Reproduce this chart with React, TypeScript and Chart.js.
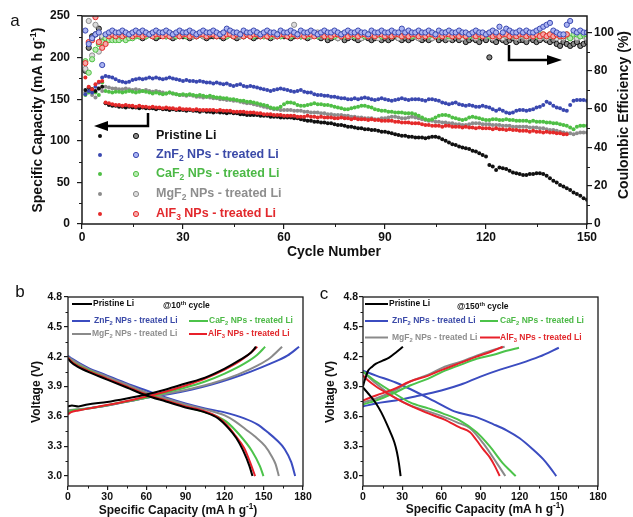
import React, { useEffect, useRef } from "react";
import { Chart, registerables } from "chart.js";
Chart.register(...registerables);

const FONT = '"Liberation Sans", Arial, Helvetica, sans-serif';

// ---------------- Panel a data ----------------
const CYCLE_TICKS = [0, 30, 60, 90, 120, 150];
const CAPACITY_TICKS = [0, 50, 100, 150, 200, 250];
const CE_TICKS = [0, 20, 40, 60, 80, 100];

const SERIES_LABELS = [
  "Pristine Li",
  "ZnF_{2} NPs - treated Li",
  "CaF_{2} NPs - treated Li",
  "MgF_{2} NPs - treated Li",
  "AlF_{3} NPs - treated Li",
];

const PRISTINE_CAP = [
  161, 164, 162, 160, 163, 165, 145, 143, 142, 142,
  141, 141, 140, 141, 140, 140, 139, 140, 139, 139,
  139, 138, 139, 138, 138, 137, 138, 137, 137, 137,
  136, 137, 136, 136, 135, 136, 135, 135, 134, 135,
  134, 134, 133, 134, 133, 133, 132, 132, 131, 131,
  131, 131, 130, 130, 130, 129, 129, 129, 128, 128,
  128, 128, 127, 127, 126, 125, 124, 124, 123, 123,
  122, 122, 121, 121, 120, 119, 119, 118, 117, 117,
  116, 115, 115, 114, 114, 113, 113, 112, 111, 111,
  110, 109, 108, 107, 106, 106, 105, 105, 104, 104,
  104, 103, 104, 105, 105, 104, 102, 100, 98, 96,
  95, 93, 92, 91, 90, 88, 87, 85, 83, 81,
  71, 69, 65, 68, 67, 66, 64, 62, 61, 60,
  59, 59, 60, 60, 61, 61, 60, 58, 55, 52,
  50, 47, 45, 43, 41, 38, 36, 34, 31, 29,
];
const ZNF2_CAP = [
  156, 160, 158, 165, 170, 176, 178, 177, 176, 174,
  172, 171, 170, 171, 173, 174, 175, 174, 175, 176,
  175, 176, 175, 174, 175, 176, 175, 174, 173, 172,
  173, 172, 172, 171, 172, 171, 170, 170, 169, 170,
  169, 168, 169, 167, 166, 167, 168, 166, 165, 166,
  165, 164, 163, 162, 161, 160, 161, 162, 163, 162,
  161, 160, 159, 160, 161, 159, 158, 158, 156, 155,
  155, 154, 154, 153, 153, 152, 151, 151, 150, 150,
  151, 150, 151, 152, 151, 150, 149, 150, 151, 150,
  149, 148, 149, 150, 151, 150, 149, 150, 150, 150,
  149, 148, 150, 150, 149, 148, 146, 145, 144, 145,
  146, 144, 143, 142, 143, 142, 141, 141, 142, 141,
  140, 138, 136, 138, 136, 134, 133, 134, 136, 137,
  137, 136, 137, 138, 140, 141, 143, 147, 145, 142,
  140, 139, 137, 136, 143, 148, 149, 149, 149, 148,
];
const CAF2_CAP = [
  155, 158, 162, 158, 155, 170, 160, 159, 158, 159,
  159, 158, 159, 160, 159, 158, 159, 160, 159, 158,
  157, 158, 157, 156, 157, 158, 157, 156, 155, 156,
  155, 156, 155, 154, 155, 154, 153, 154, 153, 152,
  152, 151, 151, 150, 150, 149, 148, 148, 147, 147,
  146, 145, 144, 143, 142, 140, 139, 139, 141, 144,
  146, 146, 145, 143, 142, 142, 143, 144, 145, 144,
  144, 143, 143, 142, 141, 140, 139, 138, 138, 139,
  140, 141, 142, 142, 141, 140, 138, 137, 136, 136,
  135, 135, 134, 134, 134, 133, 133, 133, 132, 130,
  128, 126, 125, 126, 128, 130, 131, 131, 130, 128,
  127, 126, 125, 126, 128, 129, 128, 127, 126, 125,
  125, 126, 126, 125, 125, 126, 125, 125, 124, 124,
  124, 124, 123, 124, 123, 123, 123, 122, 122, 121,
  121, 120, 119, 118, 116, 114, 117, 118, 118, 118,
];
const MGF2_CAP = [
  158, 160, 155, 152, 163, 160, 165, 164, 163, 163,
  162, 162, 163, 162, 161, 162, 161, 160, 161, 160,
  159, 160, 159, 158, 157, 158, 157, 156, 155, 155,
  154, 155, 154, 153, 153, 152, 153, 152, 151, 151,
  150, 150, 149, 149, 148, 148, 147, 146, 145, 145,
  144, 143, 142, 141, 140, 139, 138, 138, 137, 137,
  137, 137, 136, 136, 136, 135, 135, 134, 134, 134,
  133, 133, 132, 132, 131, 131, 131, 130, 130, 129,
  129, 128, 128, 127, 127, 127, 126, 126, 127, 127,
  128, 129, 129, 128, 127, 127, 128, 129, 128, 127,
  126, 125, 124, 124, 123, 123, 122, 122, 121, 121,
  120, 120, 119, 119, 120, 121, 121, 121, 120, 120,
  120, 119, 119, 119, 118, 118, 118, 117, 117, 117,
  117, 117, 116, 116, 116, 115, 115, 114, 113, 113,
  112, 111, 110, 109, 109, 108, 109, 110, 110, 110,
];
const ALF3_CAP = [
  176, 165, 162, 168, 171, 172, 146, 145, 144, 143,
  143, 142, 143, 142, 142, 141, 142, 141, 141, 140,
  141, 140, 140, 139, 140, 139, 139, 138, 139, 138,
  138, 138, 137, 138, 137, 137, 137, 137, 137, 136,
  137, 136, 136, 136, 135, 135, 135, 135, 134, 134,
  134, 133, 133, 132, 132, 132, 131, 131, 131, 130,
  130, 130, 130, 129, 129, 129, 130, 129, 129, 128,
  129, 128, 128, 128, 127, 127, 128, 127, 127, 126,
  127, 126, 126, 126, 125, 126, 125, 125, 124, 124,
  124, 124, 123, 123, 122, 122, 122, 121, 121, 121,
  120, 119, 119, 118, 118, 118, 117, 118, 118, 117,
  117, 117, 116, 117, 116, 116, 115, 116, 115, 115,
  115, 114, 115, 114, 114, 113, 114, 113, 113, 112,
  112, 112, 111, 112, 111, 111, 110, 111, 110, 110,
  109, 109, 108, 108,
];

const PRISTINE_CE = [
  80, 92, 98, 99, 102, 97, 96, 98, 97, 98,
  99, 98, 97, 98, 98, 99, 98, 97, 98, 99,
  98, 97, 98, 99, 98, 98, 97, 98, 99, 98,
  98, 97, 98, 98, 99, 98, 97, 98, 98, 99,
  98, 97, 98, 99, 98, 97, 98, 98, 99, 98,
  97, 98, 98, 99, 98, 97, 98, 98, 99, 98,
  98, 97, 98, 99, 98, 98, 97, 98, 99, 98,
  97, 98, 96, 97, 98, 97, 98, 96, 97, 98,
  97, 96, 97, 98, 97, 96, 97, 98, 96, 97,
  96, 97, 98, 97, 96, 97, 96, 97, 98, 97,
  96, 97, 96, 97, 98, 96, 97, 96, 97, 96,
  97, 96, 97, 95, 96, 97, 96, 95, 97, 96,
  87, 96, 95, 97, 96, 95, 96, 97, 95, 96,
  96, 95, 97, 96, 95, 96, 97, 96, 95, 96,
  94, 93, 95, 94, 93, 94, 95, 93, 94, 95,
];
const ZNF2_CE = [
  101, 94, 97, 99, 100, 83, 99, 100, 101, 100,
  100, 101, 100, 99, 100, 101, 100, 101, 100, 99,
  100, 101, 100, 100, 101, 100, 99, 100, 101, 100,
  100, 101, 100, 99, 100, 101, 100, 100, 101, 100,
  99, 100, 102, 101, 100, 100, 99, 101, 100, 100,
  101, 100, 99, 100, 101, 100, 100, 99, 101, 100,
  100, 101, 100, 99, 101, 100, 100, 101, 100, 99,
  100, 101, 100, 100, 101, 100, 99, 100, 101, 100,
  100, 101, 100, 100, 99, 101, 100, 100, 101, 100,
  100, 101, 100, 100, 102, 100, 101, 100, 100, 101,
  100, 100, 101, 100, 99, 101, 100, 100, 101, 100,
  100, 101, 100, 100, 99, 100, 101, 100, 100, 99,
  100, 101, 100, 103, 100, 102, 101, 100, 100, 101,
  100, 101, 100, 100, 101, 102, 103, 104, 105, 101,
  100, 99, 99, 104, 106, 101, 100, 101, 100, 100,
];
const CAF2_CE = [
  85, 79, 86, 91, 94, 95, 97, 96, 96, 96,
  96, 97, 96, 97, 97, 98, 98, 99, 98, 99,
  99, 98, 99, 99, 98, 99, 99, 98, 99, 99,
  98, 99, 99, 98, 99, 99, 98, 99, 99, 98,
  99, 99, 98, 99, 98, 99, 99, 98, 99, 99,
  98, 99, 99, 98, 99, 98, 99, 99, 98, 99,
  99, 98, 99, 99, 98, 99, 98, 99, 99, 98,
  99, 99, 98, 99, 98, 99, 99, 98, 99, 99,
  98, 99, 99, 98, 99, 99, 98, 99, 98, 99,
  99, 98, 99, 99, 98, 99, 99, 98, 99, 98,
  99, 99, 98, 99, 99, 98, 99, 100, 98, 99,
  99, 98, 99, 99, 98, 99, 99, 98, 99, 99,
  98, 99, 99, 98, 99, 99, 98, 99, 98, 99,
  99, 98, 99, 99, 98, 99, 99, 98, 99, 98,
  99, 98, 98, 99, 97, 99, 99, 98, 99, 99,
];
const MGF2_CE = [
  81, 106, 88, 104, 90, 98, 97, 98, 99, 98,
  99, 98, 99, 99, 98, 99, 100, 99, 98, 99,
  99, 98, 99, 100, 99, 98, 99, 99, 98, 99,
  100, 99, 98, 99, 99, 98, 99, 100, 99, 98,
  99, 99, 98, 99, 100, 99, 98, 99, 99, 98,
  99, 100, 99, 98, 99, 99, 98, 99, 98, 99,
  99, 98, 104, 99, 98, 99, 99, 98, 99, 100,
  99, 98, 99, 99, 98, 97, 99, 98, 99, 98,
  99, 98, 97, 99, 98, 99, 98, 97, 99, 98,
  99, 98, 99, 97, 98, 99, 98, 99, 98, 97,
  98, 99, 98, 97, 99, 98, 99, 98, 97, 98,
  99, 98, 97, 98, 99, 98, 97, 98, 99, 98,
  98, 97, 99, 98, 97, 98, 99, 98, 97, 98,
  98, 97, 98, 99, 98, 97, 98, 97, 98, 99,
  97, 98, 97, 98, 97, 98, 97, 98, 98, 97,
];
const ALF3_CE = [
  84, 95, 96, 108, 95, 92, 94, 98, 99, 98,
  99, 98, 99, 99, 98, 99, 99, 98, 99, 99,
  98, 99, 99, 98, 99, 98, 99, 99, 98, 99,
  99, 98, 99, 98, 99, 99, 98, 99, 99, 98,
  99, 98, 99, 99, 98, 99, 99, 98, 99, 98,
  99, 99, 98, 99, 98, 99, 99, 98, 99, 99,
  98, 99, 99, 98, 99, 98, 99, 99, 98, 99,
  99, 98, 99, 98, 99, 99, 98, 99, 98, 99,
  99, 98, 99, 99, 98, 99, 98, 99, 99, 98,
  99, 98, 99, 99, 98, 99, 98, 99, 99, 98,
  99, 98, 99, 99, 98, 99, 98, 99, 99, 98,
  99, 98, 99, 98, 99, 99, 98, 99, 98, 99,
  99, 98, 99, 98, 99, 99, 98, 99, 98, 99,
  99, 98, 99, 98, 99, 98, 99, 98, 99, 98,
  99, 98, 98, 99,
];

// ---------------- Panels b / c data ----------------
const VOLT_TICKS = [3.0, 3.3, 3.6, 3.9, 4.2, 4.5, 4.8];
const SPEC_CAP_TICKS = [0, 30, 60, 90, 120, 150, 180];

// 10th cycle: [capacity, voltage]
const B_PRISTINE_CHG = [[0, 3.7], [3, 3.71], [8, 3.7], [15, 3.72], [30, 3.745], [45, 3.78], [60, 3.82], [75, 3.87], [90, 3.93], [105, 3.99], [120, 4.08], [132, 4.17], [140, 4.24], [144, 4.3]];
const B_PRISTINE_DIS = [[0, 4.18], [2, 4.15], [6, 4.11], [15, 4.05], [30, 3.97], [45, 3.89], [60, 3.81], [75, 3.75], [90, 3.69], [105, 3.64], [115, 3.58], [123, 3.48], [129, 3.38], [134, 3.26], [139, 3.1], [141.3, 3.0]];
const B_ZNF2_CHG = [[0, 3.65], [5, 3.66], [15, 3.68], [30, 3.71], [50, 3.76], [65, 3.8], [80, 3.83], [95, 3.87], [110, 3.92], [125, 3.98], [140, 4.05], [155, 4.13], [168, 4.21], [177, 4.3]];
const B_ZNF2_DIS = [[0, 4.21], [3, 4.18], [15, 4.09], [30, 4.01], [45, 3.93], [60, 3.86], [75, 3.79], [90, 3.73], [105, 3.68], [120, 3.64], [135, 3.58], [145, 3.52], [153, 3.44], [160, 3.36], [166, 3.27], [171, 3.14], [174, 3.0]];
const B_CAF2_CHG = [[0, 3.64], [3, 3.66], [10, 3.67], [25, 3.7], [45, 3.75], [60, 3.79], [75, 3.84], [90, 3.89], [105, 3.95], [120, 4.03], [135, 4.13], [145, 4.22], [151, 4.3]];
const B_CAF2_DIS = [[0, 4.19], [3, 4.15], [15, 4.07], [30, 3.98], [45, 3.9], [60, 3.82], [75, 3.76], [90, 3.7], [100, 3.66], [110, 3.62], [121, 3.55], [131, 3.42], [141, 3.25], [147, 3.1], [149.7, 3.0]];
const B_MGF2_CHG = [[0, 3.66], [5, 3.67], [15, 3.68], [30, 3.71], [50, 3.76], [65, 3.8], [80, 3.84], [95, 3.88], [110, 3.93], [130, 4.02], [145, 4.11], [155, 4.19], [164, 4.3]];
const B_MGF2_DIS = [[0, 4.2], [3, 4.17], [15, 4.08], [30, 4.0], [45, 3.92], [60, 3.84], [75, 3.78], [90, 3.72], [105, 3.67], [120, 3.61], [128, 3.55], [136, 3.47], [143, 3.4], [151, 3.3], [156, 3.2], [159, 3.12], [161.5, 3.0]];
const B_ALF3_CHG = [[0, 3.62], [2, 3.64], [8, 3.66], [20, 3.69], [40, 3.74], [60, 3.8], [75, 3.85], [90, 3.91], [105, 3.98], [120, 4.07], [132, 4.16], [140, 4.24], [145, 4.3]];
const B_ALF3_DIS = [[0, 4.19], [2, 4.16], [6, 4.12], [15, 4.06], [30, 3.98], [45, 3.9], [60, 3.82], [75, 3.76], [90, 3.7], [105, 3.65], [115, 3.59], [122, 3.51], [128, 3.41], [135, 3.28], [140, 3.12], [143.3, 3.0]];

// 150th cycle: [capacity, voltage]
const C_PRISTINE_CHG = [[0, 3.9], [1, 3.95], [2.5, 4.01], [4, 4.06], [7, 4.1], [10, 4.13], [15, 4.16], [20, 4.19], [25, 4.24], [30.6, 4.3]];
const C_PRISTINE_DIS = [[0, 3.89], [4, 3.83], [10, 3.73], [14, 3.64], [18, 3.53], [21, 3.44], [24, 3.34], [26, 3.24], [27.6, 3.12], [28.8, 3.0]];
const C_ZNF2_CHG = [[0, 3.7], [10, 3.73], [25, 3.76], [40, 3.8], [60, 3.86], [75, 3.92], [90, 4.0], [105, 4.07], [120, 4.13], [135, 4.2], [150, 4.29]];
const C_ZNF2_DIS = [[0, 4.06], [10, 4.01], [25, 3.94], [40, 3.85], [55, 3.75], [70, 3.65], [85, 3.6], [100, 3.52], [110, 3.46], [120, 3.38], [130, 3.27], [138, 3.17], [143, 3.09], [148, 3.0]];
const C_CAF2_CHG = [[0, 3.72], [10, 3.76], [23, 3.83], [36, 3.91], [50, 3.98], [61, 4.05], [75, 4.12], [87, 4.18], [100, 4.22], [110, 4.26], [119.5, 4.29]];
const C_CAF2_DIS = [[0, 4.05], [10, 3.95], [23, 3.84], [36, 3.74], [50, 3.68], [61, 3.63], [74, 3.56], [87, 3.44], [97, 3.3], [107, 3.13], [113, 3.05], [117, 3.0]];
const C_MGF2_CHG = [[0, 3.74], [10, 3.78], [23, 3.85], [36, 3.95], [50, 4.02], [61, 4.09], [75, 4.15], [87, 4.21], [98, 4.26], [108.5, 4.3]];
const C_MGF2_DIS = [[0, 4.05], [10, 3.93], [23, 3.8], [36, 3.71], [50, 3.65], [61, 3.6], [72, 3.54], [82, 3.48], [92, 3.33], [102, 3.14], [109, 3.0]];
const C_ALF3_CHG = [[0, 3.76], [10, 3.81], [23, 3.87], [36, 3.95], [50, 4.01], [61, 4.07], [75, 4.14], [87, 4.2], [98, 4.25], [107, 4.3]];
const C_ALF3_DIS = [[0, 4.01], [4, 3.96], [10, 3.9], [20, 3.82], [31, 3.74], [48, 3.64], [62, 3.57], [74, 3.49], [82, 3.44], [87, 3.36], [92, 3.27], [97, 3.19], [101, 3.1], [104.7, 3.0]];

// ---------------- styles ----------------
const DOT_COLORS = ["#111111", "#3a48b0", "#4fbf45", "#8c8c8c", "#e52a2a"];
const CE_FILL = ["#8a8a8a", "#aab4f2", "#b8eab0", "#dcdcdc", "#f6a8a8"];
const TEXT_COLORS = ["#111111", "#3b4aa8", "#4cb946", "#8e8e8e", "#e2282c"];
const LINE_COLORS = ["#000000", "#3b4cc0", "#4cc34a", "#8a8a8a", "#e8202a"];

type Seg = { t: string; k: string };
function parseRich(s: string): Seg[] {
  const out: Seg[] = [];
  const re = /([_^])\{([^}]*)\}/g;
  let last = 0;
  let m: any;
  while ((m = re.exec(s))) {
    if (m.index > last) out.push({ t: s.slice(last, m.index), k: "" });
    out.push({ t: m[2], k: m[1] === "_" ? "sub" : "sup" });
    last = re.lastIndex;
  }
  if (last < s.length) out.push({ t: s.slice(last), k: "" });
  return out;
}

function drawRich(ctx: any, s: string, x: number, y: number, o: any) {
  const segs = parseRich(s);
  const w = o.weight ?? "bold";
  const small = o.size * 0.68;
  ctx.save();
  ctx.translate(x, y);
  if (o.rot) ctx.rotate(o.rot);
  ctx.fillStyle = o.color;
  ctx.textBaseline = "middle";
  ctx.textAlign = "left";
  const widths = segs.map((sg) => {
    ctx.font = `${w} ${sg.k ? small : o.size}px ${FONT}`;
    return ctx.measureText(sg.t).width;
  });
  const total = widths.reduce((a, b) => a + b, 0);
  let cx = o.align === "center" ? -total / 2 : o.align === "right" ? -total : 0;
  segs.forEach((sg, i) => {
    ctx.font = `${w} ${sg.k ? small : o.size}px ${FONT}`;
    const dy = sg.k === "sup" ? -o.size * 0.32 : sg.k === "sub" ? o.size * 0.3 : 0;
    ctx.fillText(sg.t, cx, dy);
    cx += widths[i];
  });
  ctx.restore();
}

function mids(ticks: number[]) {
  const r: number[] = [];
  for (let i = 0; i < ticks.length - 1; i++) r.push((ticks[i] + ticks[i + 1]) / 2);
  return r;
}

function framePlugin(minors: any[], lw: number, extra: (chart: any) => void) {
  return {
    id: "frameDeco",
    afterDraw(chart: any) {
      const ctx = chart.ctx;
      const a = chart.chartArea;
      ctx.save();
      ctx.strokeStyle = "#1a1a1a";
      ctx.lineWidth = lw;
      ctx.strokeRect(a.left, a.top, a.right - a.left, a.bottom - a.top);
      ctx.lineWidth = 1;
      minors.forEach((m) => {
        const sc = chart.scales[m.axis];
        m.values.forEach((v: number) => {
          const p = Math.round(sc.getPixelForValue(v)) + 0.5;
          ctx.beginPath();
          if (m.side === "bottom") {
            ctx.moveTo(p, a.bottom);
            ctx.lineTo(p, a.bottom + m.len);
          } else if (m.side === "left") {
            ctx.moveTo(a.left, p);
            ctx.lineTo(a.left - m.len, p);
          } else {
            ctx.moveTo(a.right, p);
            ctx.lineTo(a.right + m.len, p);
          }
          ctx.stroke();
        });
      });
      ctx.restore();
      extra(chart);
    },
  };
}

function axisCfg(o: any) {
  return {
    type: "linear",
    position: o.position,
    min: o.min,
    max: o.max,
    afterBuildTicks: (s: any) => {
      s.ticks = o.ticks.map((v: number) => ({ value: v }));
    },
    afterFit: (s: any) => {
      if (o.width !== undefined) s.width = o.width;
      if (o.height !== undefined) s.height = o.height;
    },
    grid: {
      display: true,
      drawOnChartArea: false,
      drawTicks: true,
      tickLength: o.tickLength,
      color: "#1a1a1a",
      lineWidth: 1.2,
    },
    border: { display: false },
    ticks: {
      color: "#111",
      font: { family: FONT, size: o.fontSize, weight: "bold" },
      padding: o.padding,
      maxRotation: 0,
      minRotation: 0,
      autoSkip: false,
      callback: o.fmt || ((v: any) => String(v)),
    },
  };
}

function makeChartA(canvas: HTMLCanvasElement) {
  const caps = [PRISTINE_CAP, ZNF2_CAP, CAF2_CAP, MGF2_CAP, ALF3_CAP];
  const ces = [PRISTINE_CE, ZNF2_CE, CAF2_CE, MGF2_CE, ALF3_CE];
  const ceOrder = [5, 1, 3, 4, 2];
  const datasets: any[] = [];
  caps.forEach((arr, i) => {
    datasets.push({
      label: SERIES_LABELS[i] + " capacity",
      data: arr.map((v, j) => ({ x: j + 1, y: v })),
      yAxisID: "y",
      showLine: false,
      pointRadius: 2,
      pointBorderWidth: 0,
      pointBackgroundColor: DOT_COLORS[i],
      order: 10 + (i === 4 ? 0 : i + 1),
    });
  });
  ces.forEach((arr, i) => {
    datasets.push({
      label: SERIES_LABELS[i] + " CE",
      data: arr.map((v, j) => ({ x: j + 1, y: v })),
      yAxisID: "y2",
      showLine: false,
      pointRadius: 2.6,
      pointBorderWidth: 1,
      pointBorderColor: DOT_COLORS[i],
      pointBackgroundColor: CE_FILL[i],
      order: ceOrder[i],
    });
  });

  const deco = (chart: any) => {
    const ctx = chart.ctx;
    drawRich(ctx, "a", 15, 21, { size: 17, color: "#111", weight: "normal", align: "center" });
    drawRich(ctx, "Cycle Number", 334, 252, { size: 14, color: "#111", align: "center" });
    drawRich(ctx, "Specific Capacity (mA h g^{-1})", 38, 120, { size: 14, color: "#111", align: "center", rot: -Math.PI / 2 });
    drawRich(ctx, "Coulombic Efficiency (%)", 624, 115, { size: 14, color: "#111", align: "center", rot: -Math.PI / 2 });
    // legend
    const rowsY = [136, 155, 174, 194, 214];
    rowsY.forEach((y, i) => {
      ctx.save();
      ctx.fillStyle = DOT_COLORS[i];
      ctx.beginPath();
      ctx.arc(100, y, 2, 0, Math.PI * 2);
      ctx.fill();
      ctx.beginPath();
      ctx.arc(136, y, 2.6, 0, Math.PI * 2);
      ctx.fillStyle = CE_FILL[i];
      ctx.fill();
      ctx.lineWidth = 1;
      ctx.strokeStyle = DOT_COLORS[i];
      ctx.stroke();
      ctx.restore();
      drawRich(ctx, SERIES_LABELS[i], 156, y, { size: 12.5, color: TEXT_COLORS[i], align: "left" });
    });
    // arrows
    ctx.save();
    ctx.strokeStyle = "#000";
    ctx.fillStyle = "#000";
    ctx.lineWidth = 2.5;
    ctx.beginPath();
    ctx.moveTo(148, 113);
    ctx.lineTo(148, 126);
    ctx.lineTo(106, 126);
    ctx.stroke();
    ctx.beginPath();
    ctx.moveTo(94, 126);
    ctx.lineTo(108, 121);
    ctx.lineTo(108, 131);
    ctx.closePath();
    ctx.fill();
    ctx.beginPath();
    ctx.moveTo(509, 45);
    ctx.lineTo(509, 60);
    ctx.lineTo(549, 60);
    ctx.stroke();
    ctx.beginPath();
    ctx.moveTo(562, 60);
    ctx.lineTo(547, 55);
    ctx.lineTo(547, 65);
    ctx.closePath();
    ctx.fill();
    ctx.restore();
  };

  return new Chart(canvas, {
    type: "scatter",
    data: { datasets },
    options: {
      responsive: false,
      animation: false,
      devicePixelRatio: 1,
      layout: { padding: { top: 16, left: 0, right: 0, bottom: 0 } },
      plugins: { legend: { display: false }, tooltip: { enabled: false } },
      scales: {
        x: axisCfg({ position: "bottom", min: 0, max: 150, ticks: CYCLE_TICKS, height: 41, tickLength: 5, fontSize: 12, padding: 1 }),
        y: axisCfg({ position: "left", min: 0, max: 250, ticks: CAPACITY_TICKS, width: 82, tickLength: 5, fontSize: 12, padding: 7 }),
        y2: axisCfg({ position: "right", min: 0, max: 108.6, ticks: CE_TICKS, width: 46, tickLength: 5, fontSize: 12, padding: 2 }),
      },
    } as any,
    plugins: [
      framePlugin(
        [
          { axis: "x", values: mids(CYCLE_TICKS), side: "bottom", len: 3 },
          { axis: "y", values: mids(CAPACITY_TICKS), side: "left", len: 3 },
          { axis: "y2", values: mids(CE_TICKS), side: "right", len: 3 },
        ],
        1.5,
        deco
      ) as any,
    ],
  });
}

function makeVoltChart(canvas: HTMLCanvasElement, cfg: any) {
  const datasets: any[] = [];
  cfg.curves.forEach((pair: any[], i: number) => {
    pair.forEach((pts: number[][]) => {
      datasets.push({
        data: pts.map((p) => ({ x: p[0], y: p[1] })),
        showLine: true,
        pointRadius: 0,
        borderColor: LINE_COLORS[i],
        borderWidth: 2,
        cubicInterpolationMode: "monotone",
        order: cfg.order[i],
      });
    });
  });
  const deco = (chart: any) => {
    const ctx = chart.ctx;
    drawRich(ctx, cfg.panel, cfg.panelPos[0], cfg.panelPos[1], { size: 17, color: "#111", weight: "normal", align: "center" });
    drawRich(ctx, "Specific Capacity (mA h g^{-1})", cfg.xTitle[0], cfg.xTitle[1], { size: 12, color: "#111", align: "center" });
    drawRich(ctx, "Voltage (V)", cfg.yTitle[0], cfg.yTitle[1], { size: 12, color: "#111", align: "center", rot: -Math.PI / 2 });
    drawRich(ctx, cfg.note, cfg.notePos[0], cfg.notePos[1], { size: 8.5, color: "#111", align: "left" });
    cfg.legend.forEach((r: any) => {
      ctx.save();
      ctx.strokeStyle = LINE_COLORS[r.i];
      ctx.lineWidth = 2;
      ctx.beginPath();
      ctx.moveTo(r.x0, r.y);
      ctx.lineTo(r.x1, r.y);
      ctx.stroke();
      ctx.restore();
      drawRich(ctx, SERIES_LABELS[r.i], r.tx, r.y, { size: 8.5, color: TEXT_COLORS[r.i], align: "left" });
    });
  };
  return new Chart(canvas, {
    type: "scatter",
    data: { datasets },
    options: {
      responsive: false,
      animation: false,
      devicePixelRatio: 1,
      layout: { padding: { top: 32, left: 0, right: cfg.rightPad, bottom: 0 } },
      plugins: { legend: { display: false }, tooltip: { enabled: false } },
      scales: {
        x: axisCfg({ position: "bottom", min: 0, max: 180, ticks: SPEC_CAP_TICKS, height: 31, tickLength: 4, fontSize: 10.5, padding: 1 }),
        y: axisCfg({
          position: "left", min: 2.9, max: 4.8, ticks: VOLT_TICKS, width: cfg.leftW, tickLength: 4, fontSize: 10.5, padding: cfg.yPad,
          fmt: (v: any) => Number(v).toFixed(1),
        }),
      },
    } as any,
    plugins: [
      framePlugin(
        [
          { axis: "x", values: mids(SPEC_CAP_TICKS), side: "bottom", len: 2.5 },
          { axis: "y", values: mids(VOLT_TICKS), side: "left", len: 2.5 },
        ],
        1.3,
        deco
      ) as any,
    ],
  });
}

export default function App() {
  const refA = useRef<HTMLCanvasElement>(null);
  const refB = useRef<HTMLCanvasElement>(null);
  const refC = useRef<HTMLCanvasElement>(null);

  useEffect(() => {
    const a = makeChartA(refA.current!);
    const b = makeVoltChart(refB.current!, {
      panel: "b",
      panelPos: [20, 27],
      xTitle: [178, 246],
      yTitle: [37, 127],
      note: "@10^{th} cycle",
      notePos: [163, 41],
      rightPad: 13,
      leftW: 68,
      yPad: 2,
      order: [1, 5, 3, 4, 2],
      curves: [
        [B_PRISTINE_CHG, B_PRISTINE_DIS],
        [B_ZNF2_CHG, B_ZNF2_DIS],
        [B_CAF2_CHG, B_CAF2_DIS],
        [B_MGF2_CHG, B_MGF2_DIS],
        [B_ALF3_CHG, B_ALF3_DIS],
      ],
      legend: [
        { i: 0, y: 39, x0: 72, x1: 92, tx: 93 },
        { i: 1, y: 56, x0: 72, x1: 90, tx: 94 },
        { i: 2, y: 56, x0: 189, x1: 208, tx: 209 },
        { i: 3, y: 69, x0: 72, x1: 91, tx: 92 },
        { i: 4, y: 69, x0: 189, x1: 207, tx: 208 },
      ],
    });
    const c = makeVoltChart(refC.current!, {
      panel: "c",
      panelPos: [8, 29],
      xTitle: [169, 245],
      yTitle: [15, 127],
      note: "@150^{th} cycle",
      notePos: [141, 42],
      rightPad: 35,
      leftW: 47,
      yPad: 1,
      order: [1, 5, 3, 4, 2],
      curves: [
        [C_PRISTINE_CHG, C_PRISTINE_DIS],
        [C_ZNF2_CHG, C_ZNF2_DIS],
        [C_CAF2_CHG, C_CAF2_DIS],
        [C_MGF2_CHG, C_MGF2_DIS],
        [C_ALF3_CHG, C_ALF3_DIS],
      ],
      legend: [
        { i: 0, y: 39, x0: 49, x1: 72, tx: 73 },
        { i: 1, y: 56, x0: 49, x1: 72, tx: 76 },
        { i: 2, y: 56, x0: 164, x1: 182, tx: 184 },
        { i: 3, y: 72.5, x0: 49, x1: 72, tx: 76 },
        { i: 4, y: 72.5, x0: 164, x1: 184, tx: 184 },
      ],
    });
    return () => {
      a.destroy();
      b.destroy();
      c.destroy();
    };
  }, []);

  return (
    <div style={{ position: "absolute", left: 0, top: 0, width: 633, height: 517, background: "#fff", overflow: "hidden" }}>
      <canvas ref={refA} width={633} height={265} style={{ position: "absolute", left: 0, top: 0, width: 633, height: 265 }} />
      <canvas ref={refB} width={316} height={252} style={{ position: "absolute", left: 0, top: 265, width: 316, height: 252 }} />
      <canvas ref={refC} width={317} height={252} style={{ position: "absolute", left: 316, top: 265, width: 317, height: 252 }} />
    </div>
  );
}
